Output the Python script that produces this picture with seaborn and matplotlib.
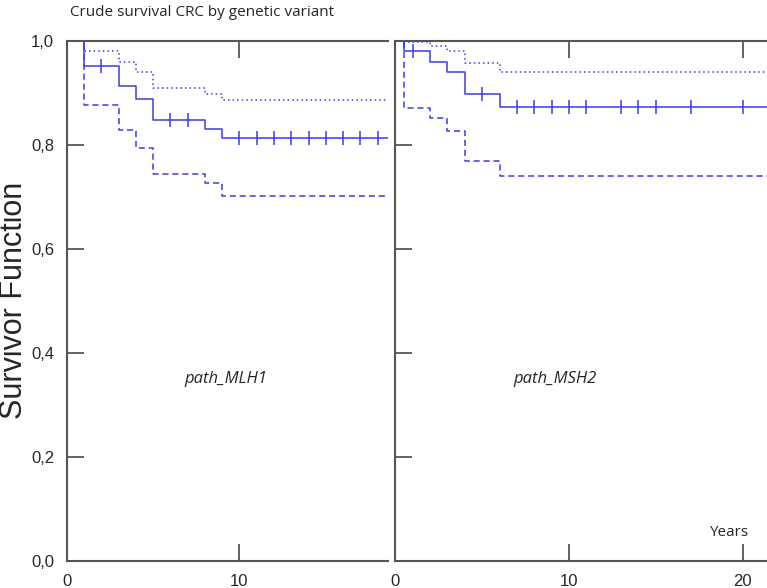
import numpy as np
import pandas as pd
import seaborn as sns
import matplotlib.pyplot as plt

# Kaplan-Meier estimates (time in years)
mlh1_times = [0, 1, 3, 4, 5, 8, 9]
mlh1_surv = [1.0, 0.952, 0.913, 0.888, 0.848, 0.831, 0.813]
mlh1_lower = [1.0, 0.876, 0.828, 0.795, 0.744, 0.726, 0.702]
mlh1_upper = [1.0, 0.981, 0.959, 0.940, 0.910, 0.898, 0.886]
mlh1_censor = [0, 2, 6, 7, 10, 11, 12, 13, 14, 15, 16, 17, 18]
mlh1_xmax = 18.6

msh2_times = [0, 0.5, 2, 3, 4, 6]
msh2_surv = [1.0, 0.981, 0.960, 0.941, 0.898, 0.873]
msh2_lower = [1.0, 0.871, 0.851, 0.827, 0.770, 0.740]
msh2_upper = [1.0, 0.999, 0.991, 0.981, 0.958, 0.941]
msh2_censor = [0, 1, 5, 7, 8, 9, 10, 11, 13, 14, 15, 17, 20]
msh2_xmax = 21.4

groups = ["path_MLH1", "path_MSH2"]
y_ticks = [0.0, 0.2, 0.4, 0.6, 0.8, 1.0]
y_labels = ["0,0", "0,2", "0,4", "0,6", "0,8", "1,0"]

blue = "#3c3ce6"
grey = "#555555"

panels = [
    (mlh1_times, mlh1_surv, mlh1_lower, mlh1_upper, mlh1_censor, mlh1_xmax, [0, 10]),
    (msh2_times, msh2_surv, msh2_lower, msh2_upper, msh2_censor, msh2_xmax, [0, 10, 20]),
]

fig = plt.figure(figsize=(7.67, 5.88), dpi=100)
sns.set_style("white")
plt.rcParams["font.family"] = ["Liberation Sans", "DejaVu Sans"]

ax_left = fig.add_axes([66.7 / 767, 1 - 561 / 588, (388 - 66.7) / 767, (561 - 41) / 588])
ax_right = fig.add_axes([395.3 / 767, 1 - 561 / 588, (767 - 395.3) / 767, (561 - 41) / 588])
axes = [ax_left, ax_right]

for ax, name, (times, surv, lower, upper, censor, xmax, xt) in zip(axes, groups, panels):
    # extend the last step to the end of follow-up
    x = list(times) + [xmax]
    df = pd.DataFrame({
        "time": x * 3,
        "value": list(surv) + [surv[-1]] + list(lower) + [lower[-1]] + list(upper) + [upper[-1]],
        "curve": ["surv"] * len(x) + ["lower"] * len(x) + ["upper"] * len(x),
    })
    sns.lineplot(data=df, x="time", y="value", style="curve", estimator=None,
                 dashes={"surv": "", "lower": (4, 2.5), "upper": (1, 2)},
                 color=blue, linewidth=1.1, drawstyle="steps-post", legend=False,
                 ax=ax, sort=False)

    # censoring marks sit on the step function
    idx = np.searchsorted(times, censor, side="right") - 1
    cens = pd.DataFrame({"time": censor, "value": np.array(surv)[idx]})
    sns.scatterplot(data=cens, x="time", y="value", marker="|", s=110,
                    color=blue, linewidth=1.1, ax=ax, zorder=3)

    ax.text(9.2, 0.35, name, style="italic", fontsize=12, ha="center", va="center",
            family=["Open Sans", "DejaVu Sans"])

    ax.set_xlim(0, xmax)
    ax.set_ylim(0, 1)
    ax.set_xticks(xt)
    ax.set_xticklabels([str(v) for v in xt], fontsize=12)
    ax.set_yticks(y_ticks)
    ax.set_xlabel("")
    ax.set_ylabel("")
    ax.tick_params(axis="both", direction="in", length=12, width=1.3, color=grey,
                   top=True, bottom=True, left=True, right=False, pad=9)
    for side in ["left", "bottom", "top"]:
        ax.spines[side].set_color(grey)
        ax.spines[side].set_linewidth(1.5)
    ax.spines["right"].set_visible(False)

ax_left.set_yticklabels(y_labels, fontsize=12)
ax_right.set_yticklabels([])

ax_right.text(19.2, 0.055, "Years", fontsize=11, ha="center", va="center",
              family=["Open Sans", "DejaVu Sans"])

fig.text(14 / 767, 1 - 300 / 588, "Survivor Function", rotation=90, fontsize=22,
         ha="center", va="center")
fig.text(70 / 767, 1 - 12 / 588, "Crude survival CRC by genetic variant", fontsize=11,
         ha="left", va="center", family=["Open Sans", "DejaVu Sans"])

fig.savefig("out.png", dpi=100)
